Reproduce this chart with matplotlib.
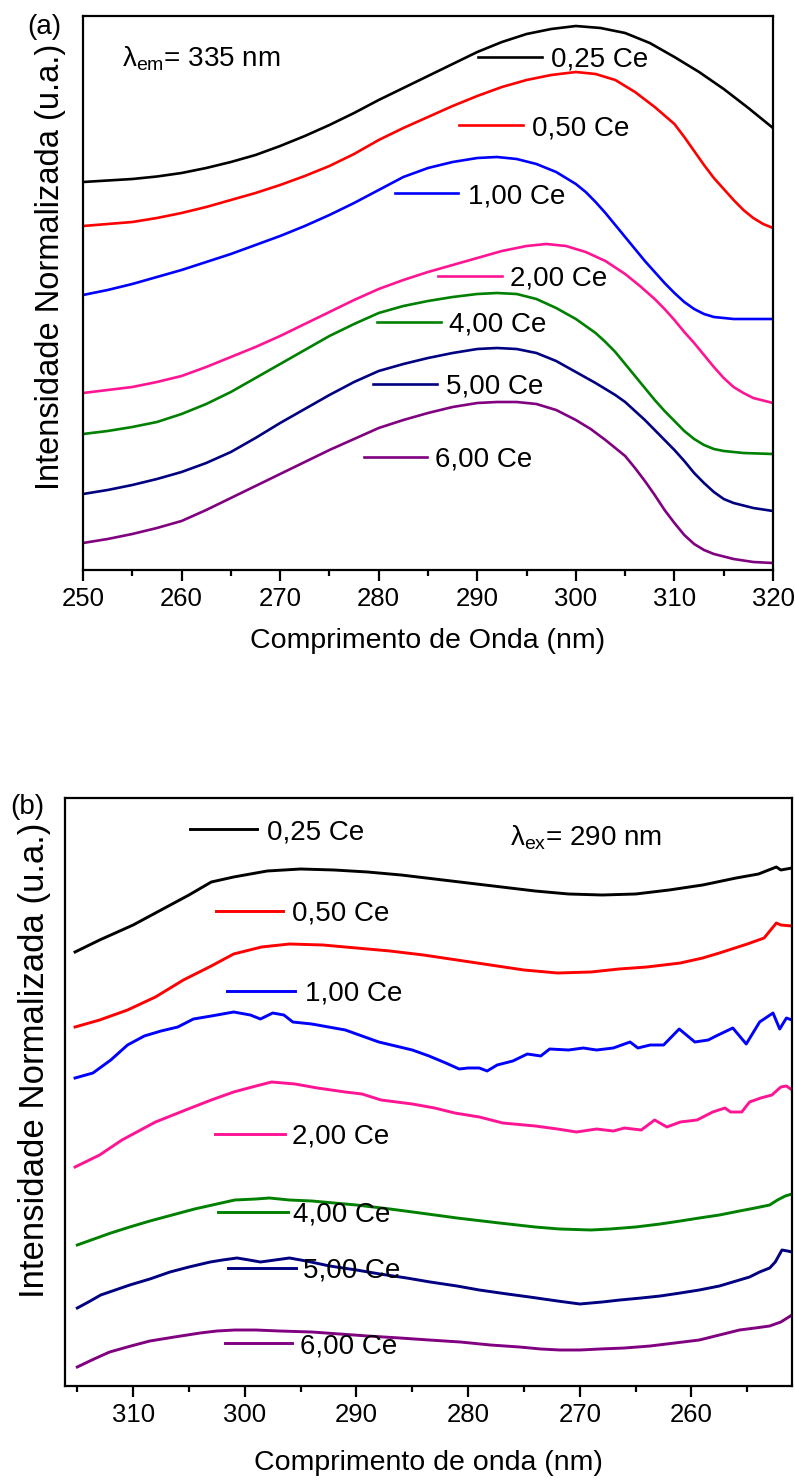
import matplotlib
matplotlib.use("Agg")
import matplotlib.pyplot as plt
from matplotlib.lines import Line2D
from matplotlib.ticker import MultipleLocator
from matplotlib.transforms import offset_copy

plt.rcParams['font.family'] = ['Liberation Sans', 'DejaVu Sans']
plt.rcParams['mathtext.fontset'] = 'custom'
plt.rcParams['mathtext.rm'] = 'Liberation Sans'
plt.rcParams['mathtext.it'] = 'Liberation Sans:italic'

# ---------------- Panel (a): excitation spectra (lambda_em = 335 nm) ----------------
labels = ["0,25 Ce", "0,50 Ce", "1,00 Ce", "2,00 Ce", "4,00 Ce", "5,00 Ce", "6,00 Ce"]
colors = ["#000000", "#FF0000", "#0000FF", "#FF1493", "#008000", "#000080", "#800080"]

a_wl_025 = [250, 252.5, 255, 257.5, 260, 262.5, 265, 267.5, 270, 272.5, 275, 277.5, 280, 282.5, 285, 287.5,
            290, 292.5, 295, 297.5, 300, 302.5, 305, 307.5, 310, 312.5, 315, 317.5, 320]
a_in_025 = [388, 389.5, 391, 393.5, 397, 402, 408, 415, 424, 434, 445, 457, 470, 482, 494, 506,
            518, 528, 536, 541, 544, 542, 537, 527, 513, 498, 481, 462, 442]

a_wl_050 = [250, 252.5, 255, 257.5, 260, 262.5, 265, 267.5, 270, 272.5, 275, 277.5, 280, 282.5, 285, 287.5,
            290, 292.5, 295, 297.5, 300, 302, 304, 306, 308, 310, 311, 312, 313, 314, 315, 316, 317, 318, 319, 320]
a_in_050 = [344, 346, 348, 352, 357, 363, 370, 377, 385, 394, 404, 416, 430, 442, 453, 464,
            474, 483, 490, 495, 498, 496, 490, 478, 463, 446, 433, 419, 405, 392, 381, 370, 360, 352, 346, 342]

a_wl_100 = [250, 252.5, 255, 257.5, 260, 262.5, 265, 267.5, 270, 272.5, 275, 277.5, 280, 282.5, 285, 287.5,
            290, 292, 294, 296, 298, 300, 301, 302, 303, 304, 305, 306, 307, 308, 309, 310, 311, 312, 313, 314,
            316, 318, 320]
a_in_100 = [275, 280, 286, 293, 300, 308, 316, 325, 334, 344, 355, 367, 380, 393, 402, 408,
            412, 413, 411, 406, 398, 386, 378, 368, 357, 345, 333, 321, 309, 298, 287, 277, 268, 261, 256, 253,
            251, 251, 251]

a_wl_200 = [250, 252.5, 255, 257.5, 260, 262.5, 265, 267.5, 270, 272.5, 275, 277.5, 280, 282.5, 285, 287.5,
            290, 292.5, 295, 297, 299, 301, 303, 305, 306.5, 308, 309, 310, 311, 312, 313, 314, 315, 316, 317,
            318, 320]
a_in_200 = [177, 180, 183, 188, 194, 203, 213, 223, 234, 246, 258, 270, 281, 290, 298, 305,
            312, 319, 324, 326, 324, 318, 309, 296, 284, 271, 261, 250, 238, 227, 215, 203, 192, 183, 177,
            172, 167]

a_wl_400 = [250, 252.5, 255, 257.5, 260, 262.5, 265, 267.5, 270, 272.5, 275, 277.5, 280, 282.5, 285, 287.5,
            290, 292, 294, 296, 298, 300, 301, 302, 303, 304, 305, 306, 307, 308, 309, 310, 311, 312, 313, 314,
            315, 317, 320]
a_in_400 = [136, 139, 143, 148, 156, 166, 178, 192, 206, 220, 234, 246, 257, 264, 269, 273,
            276, 277, 276, 271, 262, 251, 244, 237, 228, 218, 206, 194, 182, 170, 159, 149, 139, 131, 125, 121,
            119, 117, 116]

a_wl_500 = [250, 252.5, 255, 257.5, 260, 262.5, 265, 267.5, 270, 272.5, 275, 277.5, 280, 282.5, 285, 287.5,
            290, 292, 294, 296, 298, 300, 302, 304, 305, 306, 307, 308, 309, 310, 311, 312, 313, 314, 315, 316,
            318, 320]
a_in_500 = [76, 80, 85, 91, 98, 107, 118, 132, 147, 161, 175, 188, 199, 206, 212, 217,
            221, 222, 221, 217, 209, 198, 187, 175, 168, 159, 150, 140, 130, 120, 109, 97, 87, 78, 71, 67,
            62, 59]

a_wl_600 = [250, 252.5, 255, 257.5, 260, 262.5, 265, 267.5, 270, 272.5, 275, 277.5, 280, 282.5, 285, 287.5,
            290, 292, 294, 296, 298, 300, 301.5, 303, 304, 305, 306, 307, 308, 309, 310, 311, 312, 313, 314,
            316, 318, 320]
a_in_600 = [27, 31, 36, 42, 49, 60, 72, 84, 96, 108, 120, 131, 142, 150, 157, 163,
            167, 168, 168, 166, 160, 150, 141, 130, 122, 114, 102, 89, 75, 60, 47, 35, 26, 20, 16,
            11, 8, 7]

# ---------------- Panel (b): emission spectra (lambda_ex = 290 nm) ----------------
b_wl_025 = [315.2, 313, 310, 307, 305, 303, 301, 298, 295, 292, 289, 286, 283, 280, 277, 274, 271, 268, 265,
            262, 259, 256, 254, 252.4, 252, 251]
b_in_025 = [434, 446, 461, 479, 491, 504, 509, 515, 517, 516, 514, 511, 507, 503, 499, 495, 492, 491, 492,
            496, 501, 508, 512, 519, 516, 518]

b_wl_050 = [315.2, 313, 310.5, 308, 305.5, 303, 301, 298.5, 296, 293, 290, 287, 284, 281, 278, 275, 272, 269,
            266.5, 264, 261, 259, 257.5, 255, 253.5, 252.4, 252, 251]
b_in_050 = [359, 366, 376, 389, 406, 420, 432, 439, 442, 441, 438, 435, 431, 426, 421, 416, 413, 414,
            417, 419, 423, 428, 433, 442, 448, 463, 461, 460]

b_wl_100 = [315.2, 313.6, 312, 310.5, 309, 307.5, 306, 304.6, 303, 301, 299.5, 298.6, 297.5, 296.5, 295.7, 294,
            292.5, 291, 289.5, 288, 286.5, 285, 283.5, 282, 280.8, 280, 279, 278.3, 277.4, 276, 274.7, 273.5,
            272.7, 271, 269.7, 268.5, 267, 265.5, 264.8, 263.7, 262.5, 261.1, 259.7, 258.5, 257.8, 256.3, 255.1,
            253.9, 252.7, 252.1, 251.5, 251]
b_in_100 = [308, 313, 326, 341, 350, 355, 359, 367, 370, 374, 371, 367, 373, 371, 364, 362,
            359, 356, 350, 344, 340, 336, 330, 323, 317, 318, 318, 315, 321, 325, 332, 330,
            337, 336, 338, 336, 338, 344, 338, 341, 341, 357, 344, 346, 350, 358, 342,
            364, 373, 357, 368, 366]

b_wl_200 = [315.2, 313, 311, 308, 305.3, 303, 301, 299, 297.6, 295.5, 293.5, 291, 289.5, 287.8, 285, 283, 281.2,
            279, 276.9, 274, 272, 270.3, 268.5, 267, 266, 264.5, 263.3, 262.2, 261, 259.5, 258.1, 257, 256.5,
            255.5, 254.8, 253.8, 252.8, 252, 251.5, 251]
b_in_200 = [219, 231, 246, 264, 276, 286, 294, 300, 304, 302, 298, 294, 292, 286, 282, 278, 273,
            269, 263, 260, 257, 254, 257, 255, 258, 256, 266, 259, 264, 266, 274, 278, 274,
            274, 284, 288, 291, 299, 300, 296]

b_wl_400 = [315.0, 313.5, 312, 310.3, 308.5, 306.5, 304.5, 302.5, 300.9, 299, 297.8, 296, 294, 292, 290, 287,
            284.3, 281, 277.2, 274, 271.8, 269, 267.3, 265, 262.8, 261, 259.3, 257.5, 255.7, 254.3, 253, 252.3,
            251.6, 251.0]
b_in_400 = [141, 147, 153, 159, 165, 171, 177, 182, 186, 187, 188, 186, 185, 183, 181, 177,
            173, 168, 163, 159, 157, 156, 157, 159, 162, 165, 168, 171, 175, 178, 181, 186,
            190, 192]

b_wl_500 = [315.0, 314, 312.9, 311.6, 310.3, 308.5, 306.7, 305, 303.1, 302, 300.7, 299.6, 298.6, 297.3, 296.0,
            294.5, 292.4, 290, 287.9, 285.5, 283.4, 281, 279.0, 276.5, 274.5, 272, 270.0, 268, 266.4, 264.5,
            262.8, 261, 259.3, 257.5, 255.7, 254.8, 253.9, 253, 252.5, 251.9, 251.4, 251.0]
b_in_500 = [78, 84, 91, 96, 101, 107, 114, 119, 124, 126, 128, 126, 124, 126, 128,
            125, 120, 116, 112, 108, 104, 100, 96, 92, 89, 85, 82, 84, 86, 88,
            90, 93, 96, 100, 106, 109, 114, 118, 124, 136, 135, 134]

b_wl_600 = [315.0, 313.5, 312.1, 310.2, 308.5, 306.3, 304.0, 302.5, 300.9, 299, 296.9, 294, 291.5, 289, 286.1,
            283.5, 280.7, 278, 275.4, 273.5, 271.8, 270, 268.2, 266, 263.7, 261.5, 259.3, 257.5, 255.7, 254.3,
            253.0, 252, 251.0]
b_in_600 = [19, 27, 34, 40, 45, 49, 53, 55, 56, 56, 55, 54, 52, 50, 48,
            46, 44, 41, 39, 37, 36, 36, 37, 38, 40, 43, 46, 51, 56, 58,
            60, 64, 71]

a_series = [(a_wl_025, a_in_025), (a_wl_050, a_in_050), (a_wl_100, a_in_100), (a_wl_200, a_in_200),
            (a_wl_400, a_in_400), (a_wl_500, a_in_500), (a_wl_600, a_in_600)]
b_series = [(b_wl_025, b_in_025), (b_wl_050, b_in_050), (b_wl_100, b_in_100), (b_wl_200, b_in_200),
            (b_wl_400, b_in_400), (b_wl_500, b_in_500), (b_wl_600, b_in_600)]

# legend placements (axes fraction): line x0, x1, y, text x
a_leg = [(0.572, 0.665, 0.926, 0.678), (0.545, 0.638, 0.803, 0.651), (0.452, 0.543, 0.680, 0.558),
         (0.514, 0.607, 0.531, 0.619), (0.426, 0.519, 0.448, 0.530), (0.420, 0.513, 0.336, 0.526),
         (0.407, 0.499, 0.204, 0.510)]
b_leg = [(0.172, 0.264, 0.947, 0.278), (0.208, 0.300, 0.808, 0.312), (0.223, 0.316, 0.672, 0.330),
         (0.206, 0.303, 0.429, 0.312), (0.210, 0.307, 0.296, 0.314), (0.224, 0.318, 0.201, 0.327),
         (0.220, 0.312, 0.073, 0.323)]

fig = plt.figure(figsize=(7.95, 14.8), dpi=100)
axA = fig.add_axes([83/795, 1 - 570/1480, 690/795, 554/1480])
axB = fig.add_axes([65/795, 1 - 1386/1480, 727/795, 588/1480])

TICK_FS = 18.5
LAB_FS = 20.5
LEG_FS = 20
CAP_HALF = 0.36 * LEG_FS  # half cap-height in points, to centre digits on the legend line


def style(ax):
    for s in ax.spines.values():
        s.set_linewidth(1.6)
    ax.set_yticks([])
    ax.xaxis.set_major_locator(MultipleLocator(10))
    ax.xaxis.set_minor_locator(MultipleLocator(5))
    ax.tick_params(axis='x', which='major', direction='out', length=8, width=1.6,
                   labelsize=TICK_FS, pad=4.5)
    ax.tick_params(axis='x', which='minor', direction='out', length=4.5, width=1.6)


for ax, series, leg, lw in [(axA, a_series, a_leg, 1.9), (axB, b_series, b_leg, 2.1)]:
    txt_tr = offset_copy(ax.transAxes, fig=fig, y=-CAP_HALF, units='points')
    for (wl, inten), c, lab, (x0, x1, y, tx) in zip(series, colors, labels, leg):
        ax.plot(wl, inten, color=c, lw=lw)
        ax.add_line(Line2D([x0, x1], [y, y], transform=ax.transAxes, color=c, lw=lw))
        ax.text(tx, y, lab, transform=txt_tr, fontsize=LEG_FS, va='baseline', ha='left')
    style(ax)

axA.set_xlim(250, 320)
axA.set_ylim(0, 554)
axB.set_xlim(316.1, 251.0)
axB.set_ylim(0, 588)

axA.set_xlabel("Comprimento de Onda (nm)", fontsize=LAB_FS, labelpad=12)
axA.set_ylabel("Intensidade Normalizada (u.a.)", fontsize=23.5)
axA.yaxis.set_label_coords(-0.024, 0.547)
axB.set_xlabel("Comprimento de onda (nm)", fontsize=LAB_FS, labelpad=16)
axB.set_ylabel("Intensidade Normalizada (u.a.)", fontsize=25)
axB.yaxis.set_label_coords(-0.019, 0.554)

trA = offset_copy(axA.transAxes, fig=fig, y=-CAP_HALF, units='points')
trB = offset_copy(axB.transAxes, fig=fig, y=-CAP_HALF, units='points')
axA.text(0.057, 0.926, r"$\mathrm{\lambda_{em}}$= 335 nm", transform=trA,
         fontsize=LEG_FS, va='baseline', ha='left')
axB.text(0.612, 0.937, r"$\mathrm{\lambda_{ex}}$= 290 nm", transform=trB,
         fontsize=LEG_FS, va='baseline', ha='left')

fig.text(27/795, 1 - 27/1480, "(a)", fontsize=LEG_FS, va='center', ha='left')
fig.text(10/795, 1 - 807/1480, "(b)", fontsize=LEG_FS, va='center', ha='left')

fig.savefig("out.png", dpi=100)
